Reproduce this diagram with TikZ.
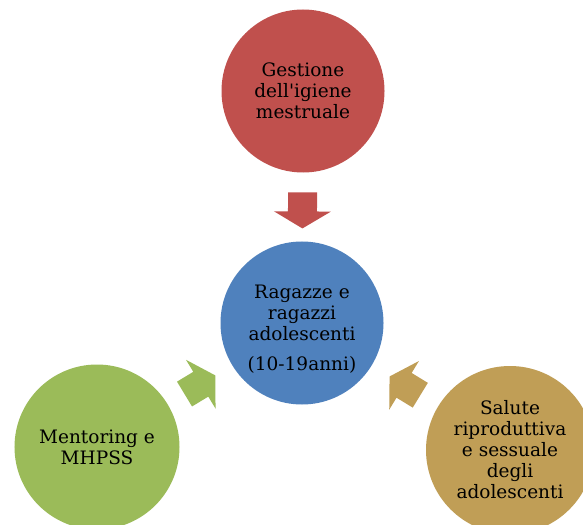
\documentclass[tikz,border=0pt]{standalone}
\usepackage{fontspec}
\setmainfont{DejaVu Serif}
\usepackage{tikz}
\usetikzlibrary{positioning,calc}
\definecolor{redfill}{RGB}{192,80,77}
\definecolor{bluefill}{RGB}{79,129,189}
\definecolor{greenfill}{RGB}{155,187,89}
\definecolor{tanfill}{RGB}{192,158,86}
\tikzset{
  topictext/.style={align=center, font=\fontsize{18.5bp}{21bp}\selectfont},
  topic/.style={topictext, circle, minimum size=163bp, inner sep=0pt},
  % block arrow, tip on the local x axis
  pics/blockarrow/.style={code={
    \fill (-18,-14.5) -- (1,-14.5) -- (1,-28.5) -- (18,0)
          -- (1,28.5) -- (1,14.5) -- (-18,14.5) -- cycle;
  }},
  feed/.style={pos=0.5, sloped, allow upside down}
}

\begin{document}
\begin{tikzpicture}[x=1bp,y=-1bp]
  \clip (0,0) rectangle (583,525);
  \path[fill=white] (0,0) rectangle (583,525);

  % the four circles
  \node[topic, fill=bluefill] (hub) at (302,323) {};
  \node[topictext] (hubtext) at ($(hub)+(0,6)$)
    {Ragazze e\\ragazzi\\adolescenti\\[9bp](10-19anni)};
  \node[topic, fill=redfill] (mhm) at (303,91)
    {Gestione\\dell\textquotesingle igiene\\mestruale};
  \node[topic, fill=greenfill, minimum size=165bp] (mentor) at (97,447)
    {Mentoring e\\MHPSS};
  \node[topic, fill=tanfill, minimum size=168bp] (srh) at (510,450)
    {Salute\\riproduttiva\\e sessuale\\degli\\adolescenti};

  % arrows into the hub
  \path (mhm) -- pic[feed, pos=0.55, fill=redfill]{blockarrow} (hub);
  \path (mentor) -- pic[feed, fill=greenfill]{blockarrow} (hub);
  \path (srh) -- pic[feed, fill=tanfill]{blockarrow} (hub);
\end{tikzpicture}
\end{document}
